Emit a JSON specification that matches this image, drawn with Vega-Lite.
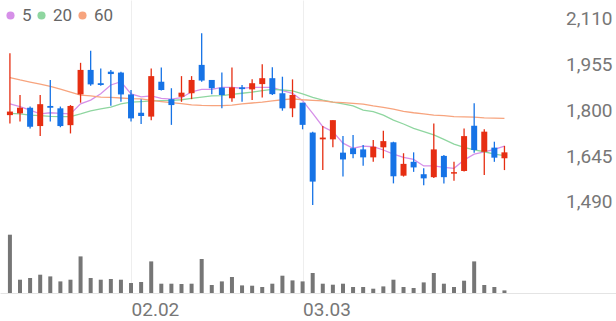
{
  "$schema": "https://vega.github.io/schema/vega-lite/v6.json",
  "width": 616,
  "height": 293,
  "autosize": {"type": "none"},
  "padding": {"left": 0, "top": 0, "right": 0, "bottom": 28},
  "background": "white",
  "config": {"view": {"stroke": null}, "font": "Roboto"},
  "datasets": {
    "c": [
      {"i":0,"o":1828,"h":2037,"l":1800,"c":1840,"v":583,"m5":1866,"m20":1834,"m60":1955},
      {"i":1,"o":1834,"h":1896,"l":1806,"c":1853,"v":133,"m5":1857,"m20":1832,"m60":1947},
      {"i":2,"o":1853,"h":1857,"l":1783,"c":1789,"v":150,"m5":1845,"m20":1828,"m60":1940},
      {"i":3,"o":1791,"h":1896,"l":1757,"c":1865,"v":183,"m5":1832,"m20":1826,"m60":1933},
      {"i":4,"o":1859,"h":1947,"l":1806,"c":1853,"v":166,"m5":1836,"m20":1824,"m60":1925},
      {"i":5,"o":1851,"h":1857,"l":1787,"c":1791,"v":116,"m5":1834,"m20":1823,"m60":1916},
      {"i":6,"o":1794,"h":1862,"l":1766,"c":1859,"v":133,"m5":1832,"m20":1823,"m60":1906},
      {"i":7,"o":1898,"h":2005,"l":1870,"c":1981,"v":366,"m5":1866,"m20":1832,"m60":1896},
      {"i":8,"o":1981,"h":2046,"l":1927,"c":1932,"v":150,"m5":1879,"m20":1842,"m60":1893},
      {"i":9,"o":1936,"h":1986,"l":1927,"c":1930,"v":133,"m5":1900,"m20":1849,"m60":1889},
      {"i":10,"o":1975,"h":1981,"l":1860,"c":1967,"v":140,"m5":1930,"m20":1855,"m60":1888},
      {"i":11,"o":1972,"h":1975,"l":1873,"c":1898,"v":133,"m5":1941,"m20":1866,"m60":1886},
      {"i":12,"o":1898,"h":1913,"l":1806,"c":1817,"v":100,"m5":1900,"m20":1872,"m60":1884},
      {"i":13,"o":1836,"h":1882,"l":1798,"c":1825,"v":110,"m5":1890,"m20":1874,"m60":1883},
      {"i":14,"o":1823,"h":1986,"l":1811,"c":1960,"v":316,"m5":1893,"m20":1876,"m60":1878},
      {"i":15,"o":1941,"h":1989,"l":1911,"c":1913,"v":93,"m5":1885,"m20":1877,"m60":1874},
      {"i":16,"o":1882,"h":1919,"l":1795,"c":1862,"v":93,"m5":1882,"m20":1878,"m60":1870},
      {"i":17,"o":1890,"h":1960,"l":1873,"c":1904,"v":90,"m5":1887,"m20":1880,"m60":1867},
      {"i":18,"o":1902,"h":1960,"l":1882,"c":1947,"v":93,"m5":1907,"m20":1885,"m60":1863},
      {"i":19,"o":1998,"h":2105,"l":1941,"c":1945,"v":340,"m5":1915,"m20":1889,"m60":1861},
      {"i":20,"o":1947,"h":1947,"l":1899,"c":1919,"v":80,"m5":1915,"m20":1893,"m60":1860},
      {"i":21,"o":1921,"h":1972,"l":1851,"c":1896,"v":116,"m5":1922,"m20":1894,"m60":1860},
      {"i":22,"o":1885,"h":1989,"l":1873,"c":1922,"v":160,"m5":1922,"m20":1898,"m60":1862},
      {"i":23,"o":1922,"h":1930,"l":1873,"c":1916,"v":76,"m5":1919,"m20":1902,"m60":1866},
      {"i":24,"o":1915,"h":1949,"l":1879,"c":1936,"v":73,"m5":1922,"m20":1906,"m60":1869},
      {"i":25,"o":1933,"h":2000,"l":1888,"c":1953,"v":60,"m5":1922,"m20":1911,"m60":1872},
      {"i":26,"o":1953,"h":1990,"l":1896,"c":1899,"v":93,"m5":1922,"m20":1915,"m60":1876},
      {"i":27,"o":1902,"h":1958,"l":1843,"c":1851,"v":173,"m5":1911,"m20":1913,"m60":1880},
      {"i":28,"o":1851,"h":1949,"l":1821,"c":1896,"v":126,"m5":1902,"m20":1910,"m60":1883},
      {"i":29,"o":1870,"h":1870,"l":1780,"c":1795,"v":116,"m5":1877,"m20":1900,"m60":1880},
      {"i":30,"o":1769,"h":1772,"l":1524,"c":1603,"v":200,"m5":1834,"m20":1888,"m60":1878},
      {"i":31,"o":1746,"h":1791,"l":1642,"c":1752,"v":93,"m5":1789,"m20":1879,"m60":1876},
      {"i":32,"o":1746,"h":1811,"l":1719,"c":1811,"v":83,"m5":1772,"m20":1872,"m60":1872},
      {"i":33,"o":1701,"h":1757,"l":1620,"c":1678,"v":93,"m5":1733,"m20":1866,"m60":1870},
      {"i":34,"o":1716,"h":1761,"l":1682,"c":1696,"v":60,"m5":1716,"m20":1859,"m60":1868},
      {"i":35,"o":1712,"h":1727,"l":1657,"c":1685,"v":60,"m5":1723,"m20":1845,"m60":1865},
      {"i":36,"o":1685,"h":1744,"l":1670,"c":1721,"v":43,"m5":1721,"m20":1840,"m60":1859},
      {"i":37,"o":1719,"h":1775,"l":1682,"c":1740,"v":66,"m5":1710,"m20":1828,"m60":1854},
      {"i":38,"o":1736,"h":1738,"l":1597,"c":1621,"v":133,"m5":1696,"m20":1811,"m60":1848},
      {"i":39,"o":1623,"h":1699,"l":1620,"c":1663,"v":60,"m5":1685,"m20":1798,"m60":1841},
      {"i":40,"o":1670,"h":1702,"l":1636,"c":1651,"v":50,"m5":1678,"m20":1783,"m60":1836},
      {"i":41,"o":1628,"h":1648,"l":1591,"c":1614,"v":106,"m5":1656,"m20":1772,"m60":1832},
      {"i":42,"o":1618,"h":1800,"l":1615,"c":1712,"v":200,"m5":1656,"m20":1761,"m60":1828},
      {"i":43,"o":1690,"h":1693,"l":1597,"c":1618,"v":93,"m5":1651,"m20":1746,"m60":1826},
      {"i":44,"o":1630,"h":1670,"l":1606,"c":1635,"v":60,"m5":1648,"m20":1730,"m60":1823},
      {"i":45,"o":1639,"h":1783,"l":1637,"c":1757,"v":123,"m5":1676,"m20":1719,"m60":1822},
      {"i":46,"o":1792,"h":1868,"l":1701,"c":1710,"v":316,"m5":1696,"m20":1710,"m60":1821},
      {"i":47,"o":1704,"h":1780,"l":1625,"c":1772,"v":80,"m5":1704,"m20":1704,"m60":1819},
      {"i":48,"o":1718,"h":1738,"l":1670,"c":1684,"v":60,"m5":1712,"m20":1696,"m60":1818},
      {"i":49,"o":1682,"h":1724,"l":1642,"c":1702,"v":26,"m5":1723,"m20":1691,"m60":1817}
    ],
    "grid": [{"g":1645},{"g":1800},{"g":1955},{"g":2110}]
  },
  "data": {"name": "c"},
  "encoding": {
    "x": {
      "field": "i", "type": "quantitative",
      "scale": {"domain": [-0.4874, 59.557], "nice": false, "zero": false},
      "axis": {
        "values": [12, 29],
        "labelExpr": "datum.value == 12 ? '02.02' : '03.03'",
        "title": null, "grid": true, "gridColor": "#eeeeee",
        "domainColor": "#e4e4e4", "ticks": false, "tickSize": 0,
        "labelAlign": "left", "labelBaseline": "top", "labelPadding": 7,
        "labelFontSize": 19, "labelColor": "#777777",
        "labelFlush": false, "labelBound": false, "labelOverlap": false
      }
    }
  },
  "resolve": {"scale": {"y": "independent"}},
  "layer": [
    {
      "layer": [
        {
          "data": {"name": "grid"},
          "mark": {"type": "rule", "color": "#efefef", "strokeWidth": 1},
          "encoding": {
            "x": {"datum": -0.2, "type": "quantitative"},
            "x2": {"datum": 49.42},
            "y": {
              "field": "g", "type": "quantitative",
              "scale": {"domain": [1226, 2217.6], "nice": false, "zero": false},
              "axis": {
                "orient": "right", "title": null, "values": [1490, 1645, 1800, 1955, 2110],
                "labelExpr": "format(datum.value, ',')", "domain": false, "ticks": false, "tickSize": 0, "grid": false,
                "labelAlign": "right", "labelPadding": -4, "labelBaseline": "alphabetic",
                "labelOffset": -7, "labelFontSize": 19, "labelColor": "#777777",
                "labelFlush": false, "labelBound": false, "labelOverlap": false
              }
            }
          }
        },
        {
          "data": {"values": [{}]},
          "mark": {"type": "rule", "color": "#e4e4e4", "strokeWidth": 1},
          "encoding": {
            "x": {"datum": -0.4874, "type": "quantitative"},
            "x2": {"datum": 59.557},
            "y": {"datum": 1490, "type": "quantitative"}
          }
        },
        {
          "transform": [{"fold": ["m5", "m20", "m60"], "as": ["s", "val"]}],
          "mark": {"type": "line", "strokeWidth": 1.3},
          "encoding": {
            "y": {"field": "val", "type": "quantitative"},
            "color": {
              "field": "s", "type": "nominal",
              "scale": {"domain": ["m5", "m20", "m60"], "range": ["#d690e8", "#8fd6a0", "#f7a47e"]},
              "legend": {
                "title": null, "orient": "none", "legendX": 2, "legendY": 7,
                "direction": "horizontal", "gridAlign": "none", "symbolType": "circle", "symbolSize": 66,
                "symbolStrokeWidth": 0, "labelFontSize": 17, "labelColor": "#666666",
                "labelOffset": 3, "columnPadding": 1, "padding": 0,
                "labelExpr": "datum.value == 'm5' ? '5' : datum.value == 'm20' ? '20' : '60'",
                "encode": {"symbols": {"update": {"fill": {"scale": "color", "field": "value"}, "fillOpacity": {"value": 1}}}}
              }
            }
          }
        },
        {
          "mark": {"type": "rule", "strokeWidth": 1.3},
          "encoding": {
            "y": {"field": "l", "type": "quantitative"},
            "y2": {"field": "h"},
            "color": {"condition": {"test": "datum.c >= datum.o", "value": "#e62e12"}, "value": "#1673e6"}
          }
        },
        {
          "mark": {"type": "bar", "size": 6},
          "encoding": {
            "y": {"field": "o", "type": "quantitative"},
            "y2": {"field": "c"},
            "color": {"condition": {"test": "datum.c >= datum.o", "value": "#e62e12"}, "value": "#1673e6"}
          }
        }
      ]
    },
    {
      "mark": {"type": "bar", "size": 4, "color": "#767676"},
      "encoding": {
        "y": {"field": "v", "type": "quantitative", "scale": {"domain": [0, 2930], "nice": false, "zero": true}, "axis": null}
      }
    }
  ]
}
